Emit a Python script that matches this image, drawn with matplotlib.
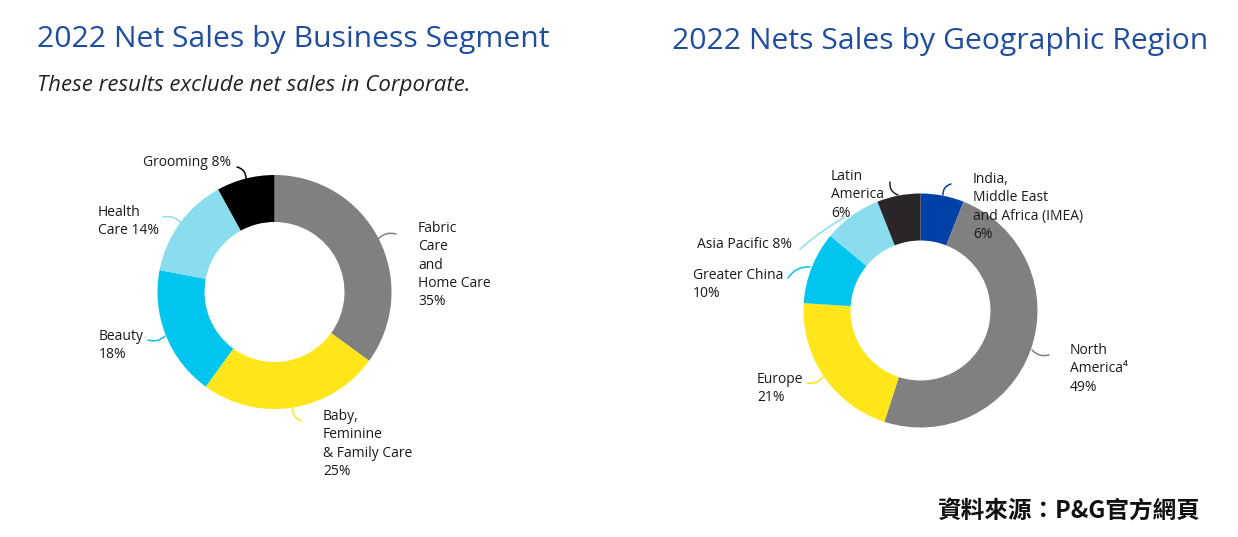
import matplotlib
matplotlib.use("Agg")
import matplotlib.pyplot as plt

W, H = 1238, 537

# ---- data ----
seg_labels = ["Fabric\nCare\nand\nHome Care", "Baby,\nFeminine\n& Family Care", "Beauty", "Health\nCare", "Grooming"]
seg_values = [35, 25, 18, 14, 8]
seg_colors = ["#808080", "#FFE61A", "#00C5EF", "#8ADDEF", "#000000"]

geo_labels = ["India,\nMiddle East\nand Africa (IMEA)", "North\nAmerica\u2074", "Europe", "Greater China", "Asia Pacific", "Latin\nAmerica"]
geo_values = [6, 49, 21, 10, 8, 6]
geo_colors = ["#0041A8", "#808080", "#FFE61A", "#00C5EF", "#8ADDEF", "#2A2627"]

title_left = "2022 Net Sales by Business Segment"
title_right = "2022 Nets Sales by Geographic Region"
subtitle = "These results exclude net sales in Corporate."
source = "資料來源：P&G官方網頁"

fig = plt.figure(figsize=(W / 100, H / 100), dpi=100)
ax = fig.add_axes([0, 0, 1, 1])

def Y(y):
    return H - y

R = 117
RW = 47
ax.pie(seg_values, colors=seg_colors, startangle=90, counterclock=False,
       center=(274.5, Y(292)), radius=R, wedgeprops=dict(width=RW, linewidth=0))
ax.pie(geo_values, colors=geo_colors, startangle=90, counterclock=False,
       center=(920.5, Y(310.5)), radius=R, wedgeprops=dict(width=RW, linewidth=0))
ax.set_xlim(0, W)
ax.set_ylim(0, H)
ax.set_aspect("equal")
ax.axis("off")

lab_font = dict(family=["Open Sans", "DejaVu Sans"], fontsize=10, color="#1a1a1a",
                ha="left", va="top", linespacing=1.3)

def label(x, y, s):
    ax.text(x, Y(y) + 6, s, **lab_font)

def leader(p0, p1, color, rad):
    ax.annotate("", xy=(p1[0], Y(p1[1])), xytext=(p0[0], Y(p0[1])),
                arrowprops=dict(arrowstyle="-", color=color, lw=1.1,
                                connectionstyle=f"arc3,rad={rad}", shrinkA=0, shrinkB=0))

# left labels
label(418, 227, seg_labels[0] + f"\n{seg_values[0]}%")
leader((378, 239), (396, 234), seg_colors[0], -0.3)
label(323, 415, seg_labels[1] + f"\n{seg_values[1]}%")
leader((293, 407), (301, 421), seg_colors[1], 0.4)
label(99, 335, seg_labels[2] + f"\n{seg_values[2]}%")
leader((165, 336), (148, 340), "#00C5EF", -0.3)
label(98, 211, seg_labels[3] + f" {seg_values[3]}%")
leader((181, 223), (163, 217), "#8ADDEF", 0.3)
label(143, 161, seg_labels[4] + f" {seg_values[4]}%")
leader((246, 179), (237, 167), "#000000", 0.4)

# right labels
label(973, 178, geo_labels[0] + f"\n{geo_values[0]}%")
leader((943, 195), (951, 184), geo_colors[0], -0.4)
label(1070, 349, geo_labels[1] + f"\n{geo_values[1]}%")
leader((1032, 350), (1049, 355), geo_colors[1], 0.3)
label(757, 378, geo_labels[2] + f"\n{geo_values[2]}%")
leader((823, 377), (807, 383), geo_colors[2], -0.3)
label(693, 274, geo_labels[3] + f"\n{geo_values[3]}%")
leader((810, 267), (788, 278), geo_colors[3], 0.3)
label(697, 243, geo_labels[4] + f" {geo_values[4]}%")
leader((845, 217), (800, 249), geo_colors[4], 0.05)
label(831, 175, geo_labels[5] + f"\n{geo_values[5]}%")
leader((898, 195), (890, 182), geo_colors[5], -0.4)

# titles
tcol = "#1F4E9F"
fig.text(37 / W, 1 - 39 / H, title_left, family="Open Sans", fontsize=21.7, color=tcol,
         ha="left", va="center")
fig.text(672 / W, 1 - 42 / H, title_right, family="Open Sans", fontsize=21.7, color=tcol,
         ha="left", va="center")
fig.text(37 / W, 1 - 86 / H, subtitle, family="Open Sans", fontsize=16, style="italic",
         color="#222222", ha="left", va="center")
fig.text(1200 / W, 1 - 511 / H, source, family=["Noto Sans CJK TC", "DejaVu Sans"],
         fontsize=17, fontweight="bold", color="#111111", ha="right", va="center")

fig.savefig("out.png", dpi=100)
